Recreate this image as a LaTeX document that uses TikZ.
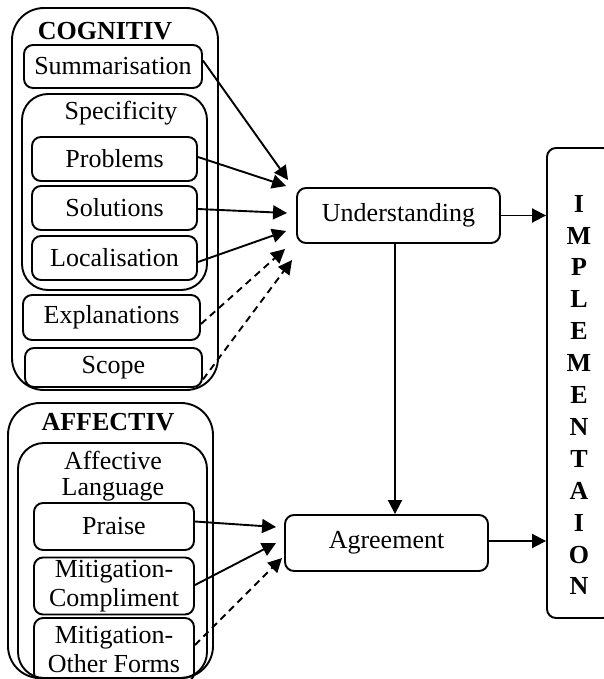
\documentclass[tikz,border=0pt]{standalone}
\usepackage{fontspec}
\setmainfont{Liberation Serif}
\usetikzlibrary{arrows.meta}

\begin{document}
\begin{tikzpicture}[x=1pt, y=-1pt,
            box/.style={draw, rounded corners=9pt, line width=1.9pt, inner sep=0pt, align=center,
                        font=\fontsize{26}{29}\selectfont},
            group/.style={draw, rounded corners=32pt, line width=1.9pt, inner sep=0pt},
            subgroup/.style={draw, rounded corners=26pt, line width=1.9pt, inner sep=0pt},
            title/.style={anchor=base, font=\fontsize{26}{29}\selectfont\bfseries},
            heading/.style={align=center, font=\fontsize{26}{26}\selectfont},
            flow/.style={line width=1.9pt, -{Triangle[length=14pt, width=14pt]}},
            weak/.style={flow, dash pattern=on 7pt off 5pt}
            ]
        \clip (0,0) rectangle (604,679);

        % Cognitive side
        \node[group, minimum width=206pt, minimum height=382pt] (cog) at (115,199) {};
        \node[title] (cogt) at (105,40) {COGNITIV};
        \node[box, minimum width=178pt, minimum height=43pt] (summ) at (113,66.5) {Summarisation};
        \node[subgroup, minimum width=185pt, minimum height=196pt] (spec) at (114.5,192) {};
        \node[heading, anchor=base] (spect) at (121,120) {Specificity};
        \node[box, minimum width=165pt, minimum height=44pt] (prob) at (114.5,159) {Problems};
        \node[box, minimum width=165pt, minimum height=44pt] (sol) at (114.5,208) {Solutions};
        \node[box, minimum width=165pt, minimum height=44pt] (loc) at (114.5,258) {Localisation};
        \node[box, minimum width=177pt, minimum height=45pt] (expl) at (111.5,317.5) {Explanations};
        \node[box, minimum width=177pt, minimum height=39pt] (scop) at (113.5,367.5) {Scope};

        % Affective side
        \node[group, minimum width=205pt, minimum height=275pt] (aff) at (110.5,540.5) {};
        \node[title] (afft) at (108,430) {AFFECTIV};
        \node[subgroup, minimum width=189pt, minimum height=235pt] (lang) at (112.5,560.5) {};
        \node[heading] (langt) at (113,476) {Affective\\Language};
        \node[box, minimum width=160pt, minimum height=47pt] (prai) at (114,526.5) {Praise};
        \node[box, minimum width=160pt, minimum height=57pt] (mitc) at (114,586) {Mitigation-\\Compliment};
        \node[box, minimum width=160pt, minimum height=64pt] (mito) at (114,650) {Mitigation-\\Other Forms};

        % Outcomes
        \node[box, minimum width=203pt, minimum height=55pt] (und) at (398.5,215.5) {Understanding};
        \node[box, minimum width=203pt, minimum height=56pt] (agr) at (386.5,543) {Agreement};
        \node[box, minimum width=65pt, minimum height=470pt] (impl) at (579.5,383) {};
        \node[align=center, font=\fontsize{26}{31.9}\selectfont\bfseries] (implt) at (579,395)
            {I\\M\\P\\L\\E\\M\\E\\N\\T\\A\\I\\O\\N};

        % Arrows into Understanding
        \draw[flow] ([yshift=6pt]summ.east) -- ([xshift=-8pt, yshift=35.5pt]und.west);
        \draw[flow] ([yshift=2pt]prob.east) -- ([xshift=-10pt, yshift=29.5pt]und.west);
        \draw[flow] ([yshift=-1pt]sol.east) -- ([xshift=-9pt, yshift=2.5pt]und.west);
        \draw[flow] ([yshift=-4pt]loc.east) -- ([xshift=-10pt, yshift=-15.5pt]und.west);
        \draw[weak] ([yshift=-6.5pt]expl.east) -- ([xshift=-11pt, yshift=-33.5pt]und.west);
        \draw[weak] ([yshift=-12pt]scop.east) -- ([xshift=-4pt, yshift=-44.5pt]und.west);

        % Arrows into Agreement
        \draw[flow] ([yshift=5pt]prai.east) -- ([xshift=-8pt, yshift=16pt]agr.west);
        \draw[flow] ([yshift=1pt]mitc.east) -- ([xshift=-8pt]agr.west);
        \draw[weak] ([yshift=5pt]mito.east) -- ([xshift=-2pt, yshift=-15pt]agr.west);

        % Understanding to Agreement, both to Implementation
        \draw[flow] ([xshift=-3.5pt]und.south) -- ([xshift=-3.5pt]und.south |- agr.north);
        \draw[flow] (und.east) -- (und.east -| impl.west);
        \draw[flow] ([yshift=2pt]agr.east) -- ([yshift=2pt]agr.east -| impl.west);
\end{tikzpicture}
\end{document}
